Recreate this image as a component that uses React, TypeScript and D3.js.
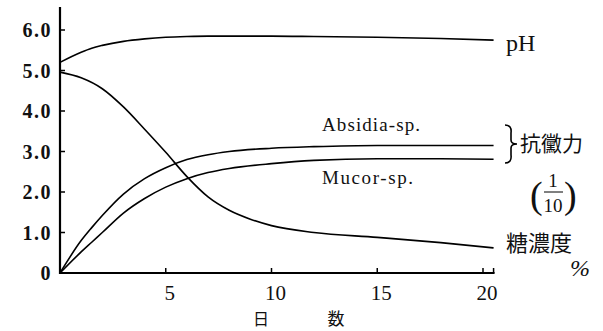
import * as d3 from 'd3';
import React from 'react';

// days
const days = [0, 1, 1.5, 2, 3, 4, 5, 6, 7, 8, 10, 12, 15, 18, 20.5];
const phValues = [5.2, 5.45, 5.55, 5.62, 5.72, 5.78, 5.82, 5.84, 5.85, 5.85, 5.85, 5.84, 5.82, 5.79, 5.75];
const absidiaValues = [0, 0.8, 1.12, 1.42, 1.95, 2.33, 2.6, 2.8, 2.92, 3.0, 3.08, 3.12, 3.15, 3.15, 3.15];
const mucorValues = [0, 0.52, 0.76, 1.0, 1.48, 1.84, 2.12, 2.33, 2.48, 2.58, 2.7, 2.78, 2.82, 2.82, 2.81];
const sugarDays = [0, 1, 2, 3, 4, 5, 6, 7, 8, 9, 10, 12, 15, 18, 20.5];
const sugarValues = [4.96, 4.82, 4.55, 4.1, 3.55, 2.98, 2.38, 1.88, 1.55, 1.33, 1.17, 1.0, 0.88, 0.75, 0.62];

const yTicks = [0, 1, 2, 3, 4, 5, 6];
const yTickLabels = ['0', '1.0', '2.0', '3.0', '4.0', '5.0', '6.0'];
const xTicks = [5, 10, 15, 20];

const serif = "'Liberation Serif', 'Times New Roman', 'DejaVu Serif', serif";
const cjk = "'Noto Sans CJK JP', sans-serif";

export default function App() {
  const x = d3.scaleLinear().domain([0, 20]).range([60, 483]);
  const y = d3.scaleLinear().domain([0, 6]).range([273, 30]);

  const line = d3
    .line<[number, number]>()
    .x((d) => x(d[0]))
    .y((d) => y(d[1]))
    .curve(d3.curveMonotoneX);

  const series = [
    days.map((d, i) => [d, phValues[i]] as [number, number]),
    days.map((d, i) => [d, absidiaValues[i]] as [number, number]),
    days.map((d, i) => [d, mucorValues[i]] as [number, number]),
    sugarDays.map((d, i) => [d, sugarValues[i]] as [number, number]),
  ];

  const xEnd = x(20.5);
  const y0 = y(0);
  const sText = { fontFamily: serif };
  const cText = { fontFamily: cjk };

  return (
    <svg width={603} height={331} style={{ position: 'absolute', left: 0, top: 0, background: '#fff' }}>
      {/* axes */}
      <line x1={x(0)} x2={x(0)} y1={7} y2={y0 + 1} stroke="#000" strokeWidth={2.2} />
      <line x1={x(0) - 1} x2={xEnd + 1} y1={y0} y2={y0} stroke="#000" strokeWidth={2.2} />
      <line x1={xEnd} x2={xEnd} y1={y0} y2={y0 - 5} stroke="#000" strokeWidth={1.5} />
      {yTicks.filter((t) => t > 0).map((t) => (
        <line key={t} x1={x(0)} x2={x(0) + 5} y1={y(t)} y2={y(t)} stroke="#000" strokeWidth={1.5} />
      ))}
      {xTicks.map((t) => (
        <line key={t} x1={x(t)} x2={x(t)} y1={y0} y2={y0 - 5} stroke="#000" strokeWidth={1.5} />
      ))}
      {yTicks.map((t, i) => (
        <text key={t} x={52} y={y(t) + 7} textAnchor="end" style={sText} fontWeight="bold"
          fontSize={20} letterSpacing={1.5} fill="#111">{yTickLabels[i]}</text>
      ))}
      {xTicks.map((t) => (
        <text key={t} x={x(t) + 4} y={300} textAnchor="middle" style={sText} fontSize={21} fill="#111">{t}</text>
      ))}
      <text x={261} y={325} textAnchor="middle" style={cText} fontSize={16} fill="#111">日</text>
      <text x={336} y={325} textAnchor="middle" style={cText} fontSize={17} fill="#111">数</text>

      {/* curves */}
      {series.map((s, i) => (
        <path key={i} d={line(s) || ''} fill="none" stroke="#000" strokeWidth={1.6} />
      ))}

      {/* labels */}
      <text x={322} y={131} style={sText} fontSize={19} textLength={98} lengthAdjust="spacing" fill="#111">Absidia-sp.</text>
      <text x={322} y={184} style={sText} fontSize={19} textLength={91} lengthAdjust="spacing" fill="#111">Mucor-sp.</text>
      <text x={506} y={51} style={sText} fontSize={24} fill="#111">pH</text>

      <path d="M505,125 Q512,125 511,133 L511,140 Q511,144 517,144 Q511,144 511,148 L511,155 Q512,163 505,163"
        fill="none" stroke="#000" strokeWidth={1.6} />
      <text x={520} y={151} style={cText} fontSize={21} fill="#111">抗黴力</text>

      <text x={530} y={208} style={sText} fontSize={38} fill="#111">(</text>
      <text x={553} y={187} textAnchor="middle" style={sText} fontSize={19} fill="#111">1</text>
      <line x1={544} x2={563} y1={192} y2={192} stroke="#000" strokeWidth={1} />
      <text x={553} y={212} textAnchor="middle" style={sText} fontSize={19} fill="#111">10</text>
      <text x={564} y={208} style={sText} fontSize={38} fill="#111">)</text>

      <text x={506} y={251} style={cText} fontSize={22} fill="#111">糖濃度</text>
      <text x={570} y={276} style={sText} fontStyle="italic" fontSize={24} fill="#111">%</text>
    </svg>
  );
}
